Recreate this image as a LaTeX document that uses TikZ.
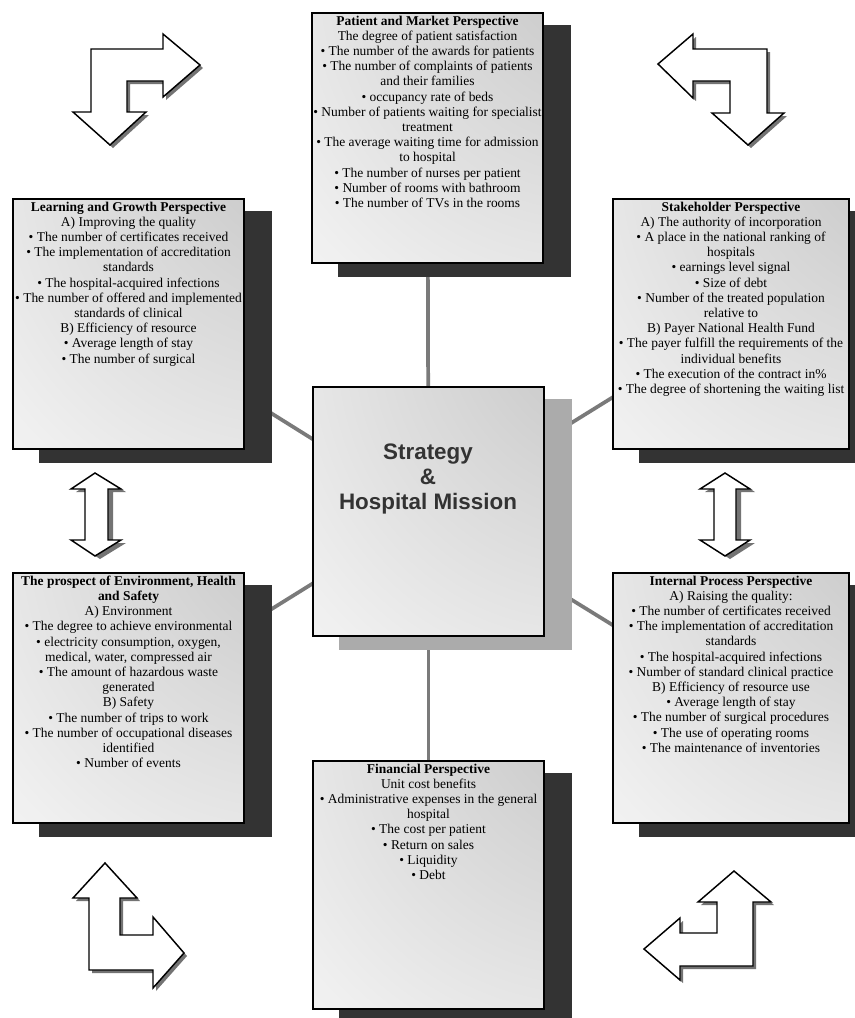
\documentclass[tikz,border=0pt]{standalone}
\usepackage{fontspec}
\setmainfont{Liberation Serif}
\newfontfamily\headsans{Liberation Sans}
\pgfdeclarelayer{linelayer}
\pgfdeclarelayer{shadowlayer}
\pgfsetlayers{linelayer,shadowlayer,main}
\pgfdeclareradialshading{cornerfade}{\pgfpoint{50bp}{50bp}}{color(0bp)=(black!27); color(35bp)=(black!16); color(70bp)=(black!6); color(100bp)=(black!1); color(120bp)=(white); color(160bp)=(white)}
\tikzset{
  pbox/.style={draw=black, line width=1.5pt, shade, shading=cornerfade, inner sep=0pt, anchor=north west},
  btext/.style={align=center, inner sep=0pt, anchor=north, font=\fontsize{10.1pt}{11.4pt}\selectfont},
  darkshade/.style={fill=black!80},
  lightshade/.style={fill=black!33},
  conn/.style={draw=black!52, line width=2.8pt},
  bigarrow/.style={draw=black, line width=1.1pt, fill=white, line join=miter},
  arrowshade/.style={fill=black!55},
}
\newcommand\castshadow[2]{\fill[#1] ([xshift=20.25pt,yshift=-9.75pt]#2.north west) rectangle ([xshift=20.25pt,yshift=-9.75pt]#2.south east);}
\begin{document}
\begin{tikzpicture}[x=0.75pt,y=-0.75pt]
\useasboundingbox (0,0) rectangle (855,1018);

% boxes
\node[pbox, minimum width=173.25pt, minimum height=187.5pt] (patient) at (311,12) {};
\node[pbox, minimum width=173.25pt, minimum height=187.5pt] (learn) at (12,198) {};
\node[pbox, minimum width=177pt, minimum height=187.5pt] (stake) at (612,198) {};
\node[pbox, minimum width=173.25pt, minimum height=186.75pt] (core) at (312,386) {};
\node[pbox, minimum width=173.25pt, minimum height=187.5pt] (env) at (12,572) {};
\node[pbox, minimum width=177pt, minimum height=187.5pt] (internal) at (612,572) {};
\node[pbox, minimum width=173.25pt, minimum height=186pt] (finance) at (312,760) {};

\begin{pgfonlayer}{shadowlayer}
\castshadow{darkshade}{patient}
\castshadow{darkshade}{learn}
\castshadow{darkshade}{stake}
\castshadow{lightshade}{core}
\castshadow{darkshade}{env}
\castshadow{darkshade}{internal}
\castshadow{darkshade}{finance}
\end{pgfonlayer}

\begin{pgfonlayer}{linelayer}
\draw[conn] (core.center) -- (patient.center);
\draw[conn] (core.center) -- (learn.center);
\draw[conn] (core.center) -- (stake.center);
\draw[conn] (core.center) -- (env.center);
\draw[conn] (core.center) -- (internal.center);
\draw[conn] (core.center) -- (finance.center);
\end{pgfonlayer}

% texts
\node[btext] (patientT) at ([yshift=-2.6pt]patient.north) {\textbf{Patient and Market Perspective}\\
The degree of patient satisfaction\\
• The number of the awards for patients\\
• The number of complaints of patients\\
and their families\\
• occupancy rate of beds\\
• Number of patients waiting for specialist\\
treatment\\
• The average waiting time for admission\\
to hospital\\
• The number of nurses per patient\\
• Number of rooms with bathroom\\
• The number of TVs in the rooms};

\node[btext] (learnT) at ([yshift=-2.6pt]learn.north) {\textbf{Learning and Growth Perspective}\\
A) Improving the quality\\
• The number of certificates received\\
• The implementation of accreditation\\
standards\\
• The hospital-acquired infections\\
• The number of offered and implemented\\
standards of clinical\\
B) Efficiency of resource\\
• Average length of stay\\
• The number of surgical};

\node[btext] (stakeT) at ([yshift=-2.6pt]stake.north) {\textbf{Stakeholder Perspective}\\
A) The authority of incorporation\\
• A place in the national ranking of\\
hospitals\\
• earnings level signal\\
• Size of debt\\
• Number of the treated population\\
relative to\\
B) Payer National Health Fund\\
• The payer fulfill the requirements of the\\
individual benefits\\
• The execution of the contract in\%\\
• The degree of shortening the waiting list};

\node[btext] (envT) at ([yshift=-2.6pt]env.north) {\textbf{The prospect of Environment, Health}\\
\textbf{and Safety}\\
A) Environment\\
• The degree to achieve environmental\\
• electricity consumption, oxygen,\\
medical, water, compressed air\\
• The amount of hazardous waste\\
generated\\
B) Safety\\
• The number of trips to work\\
• The number of occupational diseases\\
identified\\
• Number of events};

\node[btext] (internalT) at ([yshift=-2.6pt]internal.north) {\textbf{Internal Process Perspective}\\
A) Raising the quality:\\
• The number of certificates received\\
• The implementation of accreditation\\
standards\\
• The hospital-acquired infections\\
• Number of standard clinical practice\\
B) Efficiency of resource use\\
• Average length of stay\\
• The number of surgical procedures\\
• The use of operating rooms\\
• The maintenance of inventories};

\node[btext] (financeT) at ([yshift=-2.6pt]finance.north) {\textbf{Financial Perspective}\\
Unit cost benefits\\
• Administrative expenses in the general\\
hospital\\
• The cost per patient\\
• Return on sales\\
• Liquidity\\
• Debt};

\node[align=center, inner sep=0pt, text=black!80, font=\headsans\bfseries\fontsize{16.8pt}{19.1pt}\selectfont] (coreT) at (428,479) {Strategy\\\&\\Hospital Mission};

% L-shaped arrows
\fill[arrowshade, shift={(3,3)}] (91,49) -- (163,49) -- (163,34) -- (200,65) -- (163,97) -- (163,81) -- (127,81) -- (127,112) -- (146,112) -- (110,145) -- (73,112) -- (91,112) -- cycle;
\draw[bigarrow] (91,49) -- (163,49) -- (163,34) -- (200,65) -- (163,97) -- (163,81) -- (127,81) -- (127,112) -- (146,112) -- (110,145) -- (73,112) -- (91,112) -- cycle;

\fill[arrowshade, shift={(3,3)}] (693,49) -- (767,49) -- (767,113) -- (784,113) -- (748,145) -- (712,113) -- (730,113) -- (730,81) -- (693,81) -- (693,98) -- (658,64) -- (693,34) -- cycle;
\draw[bigarrow] (693,49) -- (767,49) -- (767,113) -- (784,113) -- (748,145) -- (712,113) -- (730,113) -- (730,81) -- (693,81) -- (693,98) -- (658,64) -- (693,34) -- cycle;

\fill[arrowshade, shift={(3,3)}] (105,863) -- (137,898) -- (120,898) -- (120,935) -- (153,935) -- (153,917) -- (184,953) -- (153,988) -- (153,970) -- (89,970) -- (89,898) -- (73,898) -- cycle;
\draw[bigarrow] (105,863) -- (137,898) -- (120,898) -- (120,935) -- (153,935) -- (153,917) -- (184,953) -- (153,988) -- (153,970) -- (89,970) -- (89,898) -- (73,898) -- cycle;

\fill[arrowshade, shift={(3,3)}] (734,871) -- (771,902) -- (753,902) -- (753,966) -- (680,966) -- (680,980) -- (644,949) -- (680,918) -- (680,933) -- (717,933) -- (717,902) -- (698,902) -- cycle;
\draw[bigarrow] (734,871) -- (771,902) -- (753,902) -- (753,966) -- (680,966) -- (680,980) -- (644,949) -- (680,918) -- (680,933) -- (717,933) -- (717,902) -- (698,902) -- cycle;

% double vertical arrows
\fill[arrowshade, shift={(5,3)}] (95,473) -- (121,489) -- (108,489) -- (108,540) -- (121,540) -- (95,556) -- (71,540) -- (85,540) -- (85,489) -- (71,489) -- cycle;
\draw[bigarrow] (95,473) -- (121,489) -- (108,489) -- (108,540) -- (121,540) -- (95,556) -- (71,540) -- (85,540) -- (85,489) -- (71,489) -- cycle;

\fill[arrowshade, shift={(5,3)}] (725,473) -- (750,489) -- (736,489) -- (736,540) -- (750,540) -- (725,556) -- (700,540) -- (714,540) -- (714,489) -- (700,489) -- cycle;
\draw[bigarrow] (725,473) -- (750,489) -- (736,489) -- (736,540) -- (750,540) -- (725,556) -- (700,540) -- (714,540) -- (714,489) -- (700,489) -- cycle;
\end{tikzpicture}
\end{document}
